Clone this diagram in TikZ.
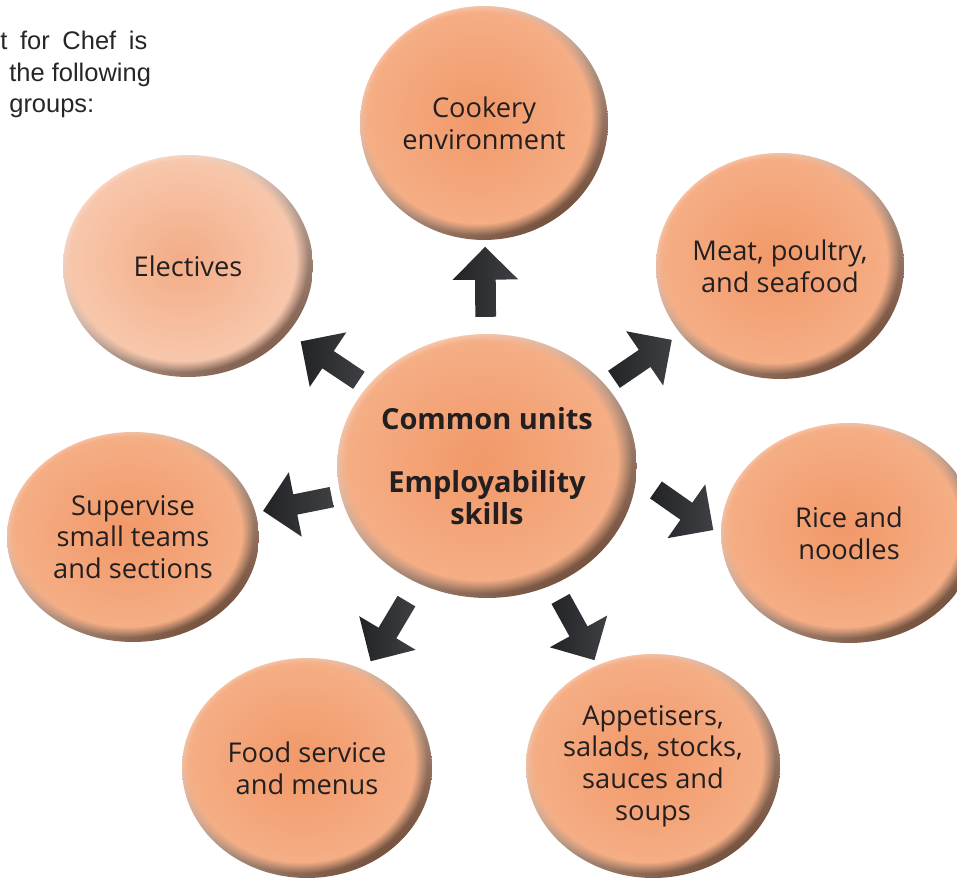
\documentclass[tikz,border=0pt]{standalone}
\usepackage{fontspec}
\setmainfont{Open Sans}
\newfontfamily\introfont{Liberation Sans}
\usetikzlibrary{
    shapes.geometric,
    shapes.arrows,
    fadings,
    positioning
}
\definecolor{budin}{RGB}{241,152,104}
\definecolor{budout}{RGB}{246,176,136}
\definecolor{rimhi}{RGB}{252,228,214}
\definecolor{rimlo}{RGB}{118,82,62}
\definecolor{elin}{RGB}{243,172,134}
\definecolor{elout}{RGB}{248,202,176}
\definecolor{elhi}{RGB}{253,240,232}
\definecolor{ello}{RGB}{130,96,80}
\definecolor{budtext}{RGB}{35,31,32}
\definecolor{arrdark}{RGB}{34,35,38}
\definecolor{arrmid}{RGB}{62,64,68}
\definecolor{arrlight}{RGB}{172,174,178}
\tikzset{budfill/.style n args={4}{path picture={
    \shade[top color=#3, bottom color=#4, shading angle=35]
        (path picture bounding box.south west) rectangle (path picture bounding box.north east);
    \shade[inner color=#1, outer color=#2, path fading=circle with fuzzy edge 10 percent]
        ([shift={(-3pt,3pt)}]path picture bounding box.south west) rectangle ([shift={(-3pt,3pt)}]path picture bounding box.north east);
}}}
\tikzset{bud/.style={ellipse, inner sep=0pt, align=center, text=budtext,
    font=\fontsize{15.5}{18}\selectfont, budfill={budin}{budout}{rimhi}{rimlo}}}
\tikzset{budel/.style={bud, budfill={elin}{elout}{elhi}{ello}}}
\tikzset{blk/.style={single arrow, inner xsep=0pt, inner ysep=0.2cm, minimum height=1.4cm,
    single arrow head extend=0.45cm, sloped, allow upside down,
    left color=arrdark, middle color=arrlight, right color=arrmid}}
\tikzset{intro/.style={anchor=base west, inner sep=0pt, text=black!85,
    font=\introfont\fontsize{14.5}{17}\selectfont}}

\begin{document}
\begin{tikzpicture}[x=0.02cm, y=-0.02cm]
    \useasboundingbox (0,0) rectangle (957,879);
    \clip (0,0) rectangle (957,879);

    \node[intro] (t1) at (0, 50) {\makebox[2.94cm][s]{t for Chef is}};
    \node[intro] (t2) at (9, 81) {the following};
    \node[intro] (t3) at (9, 112) {groups:};

    \node[bud, minimum width=5.4cm, minimum height=5.28cm,
        font=\fontsize{16.5}{18}\selectfont\bfseries] (cu) at (487, 466)
        {Common units\\[18pt]Employability\\skills};
    \node[bud, minimum width=4.96cm, minimum height=4.68cm] (ce) at (484, 123) {Cookery\\environment};
    \node[bud, minimum width=4.96cm, minimum height=4.52cm] (mp) at (780, 266) {Meat, poultry,\\and seafood};
    \node[bud, minimum width=5.12cm, minimum height=4.4cm] (rn) at (849, 533) {Rice and\\noodles};
    \node[bud, minimum width=4.96cm, minimum height=4.48cm] (as) at (653, 766)
        {Appetisers,\\salads, stocks,\\sauces and\\soups};
    \node[bud, minimum width=5cm, minimum height=4.4cm] (fs) at (307, 768) {Food service\\and menus};
    \node[bud, minimum width=5.04cm, minimum height=4.2cm] (st) at (133, 537)
        {Supervise\\small teams\\and sections};
    \node[budel, minimum width=5cm, minimum height=4.44cm] (el) at (188, 266) {Electives};

    \path
    (cu) -- node[blk] (ace) {} (ce)
    (cu) -- node[blk, pos=0.44] (amp) {} (mp)
    (cu.-4) -- node[blk, pos=0.52] (arn) {} (rn.181)
    (cu) -- node[blk] (aas) {} (as)
    (cu) -- node[blk] (afs) {} (fs)
    (cu) -- node[blk, pos=0.45] (ast) {} (st)
    (cu) -- node[blk, pos=0.42] (ael) {} (el);
\end{tikzpicture}
\end{document}
